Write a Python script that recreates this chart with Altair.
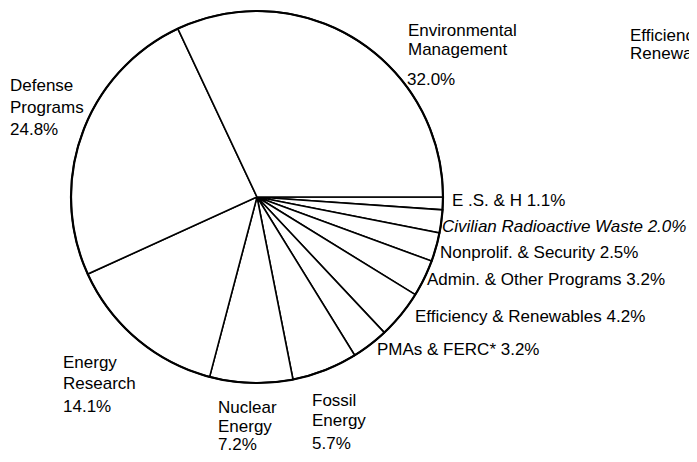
import math
import altair as alt
import pandas as pd

# Slices, listed clockwise starting at 3 o'clock
categories = [
    "E.S. & H", "Civilian Radioactive Waste", "Nonprolif. & Security",
    "Admin. & Other Programs", "Efficiency & Renewables", "PMAs & FERC*",
    "Fossil Energy", "Nuclear Energy", "Energy Research",
    "Defense Programs", "Environmental Management",
]
shares = [1.1, 2.0, 2.5, 3.2, 4.2, 3.2, 5.7, 7.2, 14.1, 24.8, 32.0]

# Label text lines
label_lines = [
    "Environmental", "Management", "32.0%",
    "Defense", "Programs", "24.8%",
    "Energy", "Research", "14.1%",
    "Nuclear", "Energy", "7.2%",
    "Fossil", "Energy", "5.7%",
    "E .S. & H 1.1%",
    "Civilian Radioactive Waste 2.0%",
    "Nonprolif. & Security 2.5%",
    "Admin. & Other Programs 3.2%",
    "Efficiency & Renewables 4.2%",
    "PMAs & FERC* 3.2%",
    "Efficiency &", "Renewables",
]

# Layout (page pixels: left edge, vertical centre) — placement only
OFF = 8
label_x = [408, 408, 407, 10, 10, 10, 63, 63, 63, 218, 218, 218, 312, 312, 312,
           452, 442, 440, 427, 415, 377, 630, 630]
label_y = [31, 50, 80, 86, 108, 130, 363, 384, 407, 408, 427, 445, 401, 421, 444,
           201, 227, 253, 280, 317, 350, 36, 54]
label_style = ["normal"] * len(label_lines)
label_style[16] = "italic"
label_style[21] = "clip"
label_style[22] = "clip"

W, H = 681, 446
CX, CY, R = 257 - OFF, 197 - OFF, 186
FS = 17

pie_df = pd.DataFrame({"category": categories, "share": shares,
                       "order": list(range(len(categories)))})
lab_df = pd.DataFrame({"text": label_lines,
                       "lx": [v - OFF for v in label_x],
                       "ly": [v - OFF for v in label_y],
                       "style": label_style})

pie = alt.Chart(pie_df).mark_arc(
    outerRadius=R, fill="white", stroke="black", strokeWidth=1.6,
    x=CX, y=CY,
).encode(
    theta=alt.Theta("share:Q", stack=True,
                    scale=alt.Scale(range=[math.pi / 2, math.pi / 2 + 2 * math.pi])),
    order=alt.Order("order:Q"),
)

rim = alt.Chart(pie_df).transform_filter("datum.order == 0").mark_arc(
    outerRadius=R, fill=None, stroke="black", strokeWidth=2.2,
    x=CX, y=CY, theta=0, theta2=2 * math.pi,
).encode(opacity=alt.value(1))

base_text = alt.Chart(lab_df).encode(
    x=alt.X("lx:Q", scale=None, axis=None),
    y=alt.Y("ly:Q", scale=None, axis=None),
    text="text:N",
)

labels = base_text.transform_filter("datum.style == 'normal'").mark_text(
    align="left", baseline="middle", font="Liberation Sans", fontSize=FS,
    color="black",
)
labels_it = base_text.transform_filter("datum.style == 'italic'").mark_text(
    align="left", baseline="middle", font="Liberation Sans", fontSize=FS,
    fontStyle="italic", color="black",
)
labels_clip = base_text.transform_filter("datum.style == 'clip'").mark_text(
    align="left", baseline="middle", font="Liberation Sans", fontSize=FS,
    color="black", clip=True,
)

chart = alt.layer(pie, rim, labels, labels_it, labels_clip).properties(
    width=W, height=H,
    autosize=alt.AutoSizeParams(type="none", contains="padding"),
    padding=0,
    background="white",
).configure_view(stroke=None)

chart.save("out.html", embed_options={"renderer": "svg", "actions": False})
